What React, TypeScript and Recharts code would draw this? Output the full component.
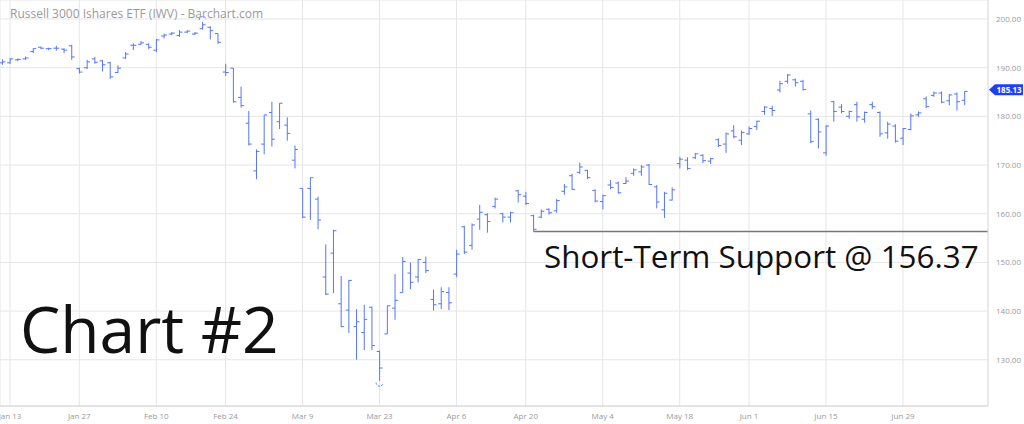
import { Bar, CartesianGrid, ComposedChart, ReferenceLine, XAxis, YAxis } from 'recharts';

const dates = [
  'Jan 10', 'Jan 13', 'Jan 14', 'Jan 15', 'Jan 16', 'Jan 17', 'Jan 21', 'Jan 22', 'Jan 23', 'Jan 24',
  'Jan 27', 'Jan 28', 'Jan 29', 'Jan 30', 'Jan 31', 'Feb 3', 'Feb 4', 'Feb 5', 'Feb 6', 'Feb 7',
  'Feb 10', 'Feb 11', 'Feb 12', 'Feb 13', 'Feb 14', 'Feb 18', 'Feb 19', 'Feb 20', 'Feb 21', 'Feb 24',
  'Feb 25', 'Feb 26', 'Feb 27', 'Feb 28', 'Mar 2', 'Mar 3', 'Mar 4', 'Mar 5', 'Mar 6', 'Mar 9',
  'Mar 10', 'Mar 11', 'Mar 12', 'Mar 13', 'Mar 16', 'Mar 17', 'Mar 18', 'Mar 19', 'Mar 20', 'Mar 23',
  'Mar 24', 'Mar 25', 'Mar 26', 'Mar 27', 'Mar 30', 'Mar 31', 'Apr 1', 'Apr 2', 'Apr 3', 'Apr 6',
  'Apr 7', 'Apr 8', 'Apr 9', 'Apr 13', 'Apr 14', 'Apr 15', 'Apr 16', 'Apr 17', 'Apr 20', 'Apr 21',
  'Apr 22', 'Apr 23', 'Apr 24', 'Apr 27', 'Apr 28', 'Apr 29', 'Apr 30', 'May 1', 'May 4', 'May 5',
  'May 6', 'May 7', 'May 8', 'May 11', 'May 12', 'May 13', 'May 14', 'May 15', 'May 18', 'May 19',
  'May 20', 'May 21', 'May 22', 'May 26', 'May 27', 'May 28', 'May 29', 'Jun 1', 'Jun 2', 'Jun 3',
  'Jun 4', 'Jun 5', 'Jun 8', 'Jun 9', 'Jun 10', 'Jun 11', 'Jun 12', 'Jun 15', 'Jun 16', 'Jun 17',
  'Jun 18', 'Jun 19', 'Jun 22', 'Jun 23', 'Jun 24', 'Jun 25', 'Jun 26', 'Jun 29', 'Jun 30', 'Jul 1',
  'Jul 2', 'Jul 6', 'Jul 7', 'Jul 8', 'Jul 9', 'Jul 10',
];

const opens = [
  191.0, 191.0, 191.6, 191.8, 193.3, 194.2, 193.9, 194.0, 193.8, 194.5,
  189.8, 190.0, 191.8, 191.4, 191.0, 189.0, 192.0, 194.6, 194.8, 194.8,
  193.6, 196.5, 196.9, 196.6, 197.3, 196.9, 198.0, 198.3, 197.0, 189.1,
  189.9, 183.9, 178.6, 168.8, 174.3, 180.8, 178.9, 178.2, 171.0, 165.2,
  165.2, 163.0, 147.0, 151.9, 141.5, 140.2, 136.8, 135.6, 140.8, 131.7,
  135.3, 140.6, 143.8, 147.8, 147.0, 150.0, 142.4, 141.5, 143.8, 147.6,
  157.3, 153.5, 158.9, 159.8, 161.5, 160.0, 159.3, 164.7, 163.6, 159.6,
  159.3, 160.9, 160.6, 164.6, 167.8, 168.5, 168.9, 164.8, 162.5, 165.9,
  166.3, 166.2, 168.3, 168.6, 170.0, 165.5, 160.8, 162.8, 170.3, 171.0,
  171.5, 172.0, 170.8, 175.2, 174.3, 177.0, 175.1, 176.4, 177.9, 181.0,
  181.6, 185.4, 187.2, 187.5, 187.2, 180.5, 179.4, 172.5, 183.0, 181.9,
  180.0, 182.4, 179.4, 182.4, 180.8, 176.6, 178.0, 175.5, 177.3, 180.3,
  183.6, 184.3, 184.8, 183.2, 184.6, 183.3,
];

const highs = [
  191.7, 192.0, 191.9, 192.3, 194.0, 194.3, 194.1, 194.5, 194.0, 194.7,
  190.0, 191.6, 192.2, 191.6, 191.2, 190.5, 193.2, 195.0, 195.5, 195.0,
  195.9, 197.0, 197.3, 197.7, 197.7, 197.3, 199.4, 198.5, 197.0, 190.8,
  189.9, 186.1, 181.1, 173.2, 180.3, 183.0, 182.7, 179.8, 174.0, 165.2,
  167.4, 163.5, 153.7, 156.7, 147.2, 146.4, 140.4, 141.3, 140.9, 131.9,
  141.1, 147.6, 151.1, 150.0, 150.7, 151.2, 144.4, 144.9, 144.9, 152.6,
  157.5, 158.0, 161.8, 160.1, 163.3, 160.2, 160.4, 164.9, 164.5, 159.8,
  160.9, 161.1, 163.0, 166.1, 168.2, 170.5, 169.0, 165.0, 163.9, 166.9,
  166.6, 167.5, 169.3, 170.0, 170.2, 165.9, 164.5, 165.4, 171.7, 171.6,
  172.5, 172.2, 171.5, 175.5, 176.7, 178.2, 177.1, 177.9, 179.1, 182.1,
  182.2, 187.3, 188.7, 187.8, 187.5, 181.2, 179.6, 178.2, 183.2, 182.5,
  181.2, 183.0, 181.0, 183.0, 181.0, 178.9, 178.4, 177.6, 180.6, 181.0,
  184.1, 185.1, 185.1, 184.6, 184.9, 185.2,
];

const lows = [
  190.6, 190.8, 191.3, 191.6, 193.0, 193.8, 193.6, 193.5, 193.0, 191.6,
  188.8, 189.7, 190.8, 189.2, 187.7, 188.9, 191.8, 193.6, 194.7, 193.8,
  193.2, 196.0, 196.7, 196.3, 197.1, 196.7, 197.8, 195.8, 194.9, 188.3,
  182.8, 181.8, 174.0, 167.1, 172.2, 173.8, 177.4, 175.0, 169.3, 159.1,
  158.7, 156.8, 143.3, 143.7, 136.7, 135.5, 130.0, 132.0, 132.0, 125.7,
  135.3, 138.2, 143.8, 144.5, 145.9, 147.8, 140.1, 140.4, 140.2, 147.0,
  151.7, 152.6, 156.7, 156.1, 161.1, 158.2, 158.2, 162.3, 161.8, 156.37,
  159.1, 159.8, 160.2, 163.9, 164.9, 168.2, 167.1, 162.3, 160.9, 165.0,
  164.1, 166.1, 167.8, 167.8, 165.9, 161.1, 159.1, 162.7, 169.3, 169.0,
  171.2, 170.4, 170.2, 173.7, 172.5, 175.5, 174.1, 176.2, 177.2, 180.3,
  180.1, 184.9, 186.7, 186.1, 185.3, 174.5, 173.4, 171.9, 178.9, 180.6,
  179.5, 178.9, 178.7, 181.5, 175.8, 175.4, 174.6, 174.1, 177.1, 179.9,
  181.7, 184.0, 182.7, 182.3, 181.2, 182.3,
];

const closes = [
  191.2, 191.8, 191.7, 192.0, 193.9, 194.0, 193.9, 194.0, 193.6, 192.2,
  189.1, 191.2, 191.1, 190.6, 188.1, 189.9, 192.8, 194.6, 195.1, 194.2,
  195.7, 196.7, 197.1, 197.3, 197.5, 197.1, 198.8, 197.6, 195.2, 189.0,
  183.0, 182.2, 174.3, 172.8, 180.3, 175.3, 182.7, 176.5, 173.2, 159.3,
  167.4, 158.7, 143.5, 156.5, 136.8, 146.3, 137.8, 138.3, 132.9, 128.3,
  141.1, 142.2, 150.2, 145.9, 150.6, 148.3, 141.3, 144.0, 141.7, 151.7,
  152.1, 157.7, 160.3, 158.4, 163.0, 159.3, 160.2, 163.9, 162.1, 156.8,
  160.5, 160.2, 162.7, 165.5, 165.0, 169.6, 167.4, 162.6, 163.7, 165.4,
  164.3, 166.7, 169.0, 169.6, 166.0, 162.4, 164.2, 164.9, 171.2, 169.3,
  172.3, 170.9, 171.3, 174.0, 176.4, 175.8, 176.7, 177.5, 179.0, 181.9,
  181.2, 186.7, 188.5, 186.9, 185.5, 174.8, 176.8, 178.0, 181.0, 181.0,
  181.0, 179.9, 180.8, 182.0, 176.4, 178.4, 174.9, 177.5, 180.1, 180.7,
  182.0, 184.8, 182.9, 184.4, 183.0, 185.13,
];

const tickDates = ['Jan 13', 'Jan 27', 'Feb 10', 'Feb 24', 'Mar 9', 'Mar 23', 'Apr 6', 'Apr 20', 'May 4', 'May 18', 'Jun 1', 'Jun 15', 'Jun 29'];
const priceTicks = [130, 140, 150, 160, 170, 180, 190, 200];

const supportLevel = 156.37;
const supportFrom = 'Apr 21';

const BAR_COLOR = '#5576f5';
const FONT = '"Open Sans", "Noto Sans", sans-serif';

const data = dates.map((d, i) => ({ i, date: d, open: opens[i], high: highs[i], low: lows[i], close: closes[i] }));
const xTicks = tickDates.map((d) => dates.indexOf(d));
const hiIdx = highs.indexOf(Math.max(...highs));
const loIdx = lows.indexOf(Math.min(...lows));
const lastClose = closes[closes.length - 1];
const X_MAX = 128.05;

const OhlcBar = (props: any) => {
  const { x, width, payload } = props;
  let { y, height } = props;
  if (height < 0) {
    y = y + height;
    height = -height;
  }
  const { open, high, low, close, i } = payload;
  const cx = x + width / 2;
  const span = high - low;
  const k = span > 0 ? height / span : 0;
  const oy = y + (high - open) * k;
  const cy = y + (high - close) * k;
  return (
    <g stroke={BAR_COLOR} strokeWidth={1} fill="none">
      <line x1={cx} x2={cx} y1={y} y2={y + Math.max(height, 1)} />
      <line x1={cx - 3} x2={cx} y1={oy} y2={oy} />
      <line x1={cx} x2={cx + 3} y1={cy} y2={cy} />
      {i === hiIdx && <path d={`M ${cx - 3.5} ${y - 2} A 3.5 3.5 0 0 1 ${cx + 3.5} ${y - 2}`} strokeDasharray="2 1.5" />}
      {i === loIdx && <path d={`M ${cx - 3.5} ${y + height + 2} A 3.5 3.5 0 0 0 ${cx + 3.5} ${y + height + 2}`} strokeDasharray="2 1.5" />}
    </g>
  );
};

const PriceTag = (props: any) => {
  const vb = props.viewBox || {};
  const tip = vb.x + vb.width + 1;
  const y = vb.y - 1.5;
  return (
    <g>
      <path d={`M ${tip} ${y} L ${tip + 6} ${y - 5.5} L ${tip + 34} ${y - 5.5} L ${tip + 34} ${y + 5.5} L ${tip + 6} ${y + 5.5} Z`} fill="#1f3ff0" />
      <text x={tip + 7.5} y={y + 3} fill="#fff" fontSize={8} fontWeight={700} fontFamily={FONT}>
        {lastClose.toFixed(2)}
      </text>
    </g>
  );
};

const PriceTick = (props: any) => {
  const { y, payload } = props;
  return (
    <text x={996} y={y + 3} fill="#9a9a9a" fontSize={8} fontFamily={FONT} textAnchor="start">
      {Number(payload.value).toFixed(2)}
    </text>
  );
};

const DateTick = (props: any) => {
  const { x, payload } = props;
  return (
    <text x={x} y={419} fill="#9a9a9a" fontSize={8} fontFamily={FONT} textAnchor="middle">
      {dates[payload.value]}
    </text>
  );
};

const App = () => (
  <div style={{ position: 'absolute', left: 0, top: 0, width: 1024, height: 424, background: '#fff' }}>
    <ComposedChart width={1024} height={424} data={data} margin={{ top: 0, right: 0, bottom: 0, left: 0 }}>
      <CartesianGrid stroke="#e6e6e6" strokeWidth={1} />
      <XAxis
        dataKey="i"
        type="number"
        domain={[-0.3, X_MAX]}
        ticks={xTicks}
        interval={0}
        tick={<DateTick />}
        tickLine={false}
        axisLine={{ stroke: '#d4d4d4' }}
        height={18}
        allowDataOverflow
      />
      <YAxis
        orientation="right"
        domain={[120.5, 203.9]}
        ticks={priceTicks}
        tick={<PriceTick />}
        tickLine={false}
        axisLine={{ stroke: '#e0e0e0' }}
        width={36}
        allowDataOverflow
      />
      <Bar
        dataKey={(d: any) => [d.low, d.high]}
        barSize={6}
        shape={<OhlcBar />}
        isAnimationActive={false}
      />
      <ReferenceLine
        segment={[{ x: dates.indexOf(supportFrom), y: supportLevel }, { x: X_MAX, y: supportLevel }]}
        stroke="#777"
        strokeWidth={1.5}
      />
      <ReferenceLine y={lastClose} stroke="none" label={(p: any) => <PriceTag {...p} />} />
    </ComposedChart>
    <svg width={1024} height={424} style={{ position: 'absolute', left: 0, top: 0, pointerEvents: 'none' }}>
      <text x={10} y={18} fill="#9a9a9a" fontSize={12} fontFamily={FONT}>
        Russell 3000 Ishares ETF (IWV) - Barchart.com
      </text>
      <text x={20} y={353} fill="#111" fontSize={64} fontFamily={FONT}>
        Chart #2
      </text>
      <text x={544} y={268} fill="#111" fontSize={31.4} fontFamily={FONT}>
        Short-Term Support @ 156.37
      </text>
    </svg>
  </div>
);

export default App;
